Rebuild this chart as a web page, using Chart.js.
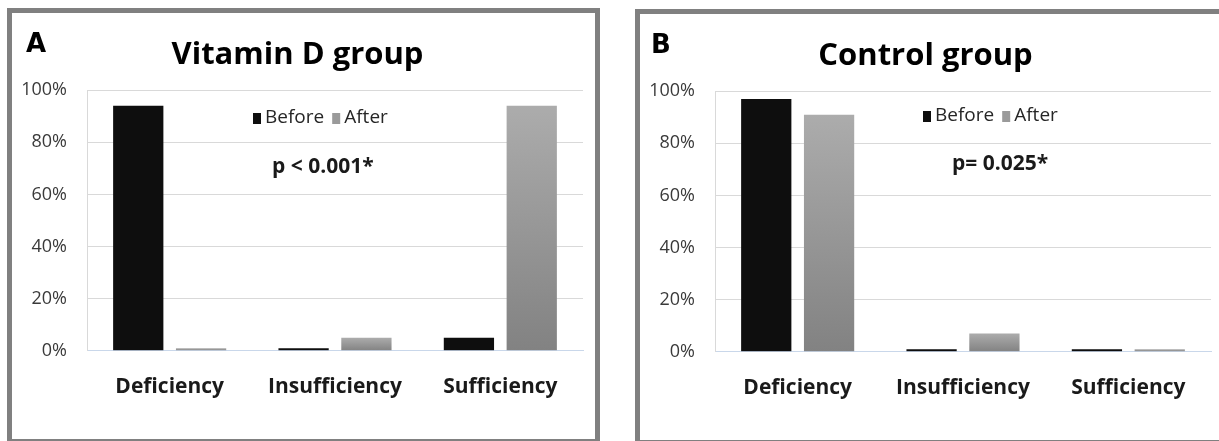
<!DOCTYPE html>
<html>
<head>
<meta charset="utf-8">
<script src="https://cdn.jsdelivr.net/npm/chart.js@4"></script>
<style>
  body { margin: 0; background: #fff; overflow: hidden; width: 1219px; height: 441px; position: relative; }
  .panel { position: absolute; border: 5px solid #808080; width: 583px; height: 426px; background: #fff; }
  #panelA { left: 7px; top: 8px; }
  #panelB { left: 635px; top: 9px; }
  canvas { display: block; }
</style>
</head>
<body>
<div class="panel" id="panelA"><canvas id="chartA" width="583" height="426"></canvas></div>
<div class="panel" id="panelB"><canvas id="chartB" width="583" height="426"></canvas></div>
<script>
const categories = ["Deficiency", "Insufficiency", "Sufficiency"];
const seriesNames = ["Before", "After"];
const vitaminDBefore = [94, 1, 5];
const vitaminDAfter = [1, 5, 94];
const controlBefore = [97, 1, 1];
const controlAfter = [91, 7, 1];
const yTickValues = [0, 20, 40, 60, 80, 100];

// gradient per bar, light on top, darker at the base
function afterFill(context) {
  const chart = context.chart;
  if (!chart.chartArea) return "#999999";
  const y = chart.scales.y;
  const top = y.getPixelForValue(context.raw);
  const bottom = y.getPixelForValue(0);
  if (bottom - top < 1) return "#9a9a9a";
  const g = chart.ctx.createLinearGradient(0, top, 0, bottom);
  g.addColorStop(0, "#acacac");
  g.addColorStop(1, "#828282");
  return g;
}

// panel letter, legend and p value drawn inside the plot
const notesPlugin = {
  id: "notes",
  afterDraw(chart, args, opts) {
    const c = chart.ctx;
    c.save();
    c.fillStyle = "#000";
    c.textBaseline = "alphabetic";
    c.font = "bold 26px 'DejaVu Sans'";
    c.fillText(opts.letter, opts.letterX, 39);

    let x = opts.legendX;
    const y = opts.legendY;
    c.font = "19px 'Open Sans'";
    c.textBaseline = "middle";
    chart.data.datasets.forEach((ds) => {
      c.fillStyle = ds.swatch;
      c.fillRect(x, y - 5, 8, 11);
      x += 12;
      c.fillStyle = "#262626";
      c.fillText(ds.label, x, y);
      x += c.measureText(ds.label).width + 8;
    });

    c.font = "bold 21px 'Open Sans'";
    c.fillStyle = "#1a1a1a";
    c.fillText(opts.pText, opts.pX, opts.pY);
    c.restore();
  },
};

function makeChart(id, title, before, after, notes) {
  return new Chart(document.getElementById(id), {
    type: "bar",
    data: {
      labels: categories,
      datasets: [
        {
          label: seriesNames[0],
          data: before,
          backgroundColor: "#0e0e0e",
          swatch: "#0e0e0e",
          categoryPercentage: 0.76,
          barPercentage: 0.8,
        },
        {
          label: seriesNames[1],
          data: after,
          backgroundColor: afterFill,
          swatch: "#9a9a9a",
          categoryPercentage: 0.76,
          barPercentage: 0.8,
        },
      ],
    },
    options: {
      responsive: false,
      animation: false,
      layout: { padding: { left: 0, right: 12, top: 0, bottom: 23 } },
      scales: {
        x: {
          grid: { display: false },
          border: { color: "#c9d7ea", width: 1 },
          ticks: {
            padding: 16,
            color: "#1a1a1a",
            font: { family: "'Open Sans'", size: 21, weight: "bold" },
          },
        },
        y: {
          min: 0,
          max: 100,
          afterFit: (scale) => { scale.width = 75; },
          afterBuildTicks: (scale) => { scale.ticks = yTickValues.map((v) => ({ value: v })); },
          grid: { color: "#d9d9d9", drawTicks: false },
          border: { color: "#d9d9d9" },
          ticks: {
            padding: 20,
            color: "#3a3a3a",
            font: { family: "'Open Sans'", size: 18 },
            callback: (v) => v + "%",
          },
        },
      },
      plugins: {
        legend: { display: false },
        tooltip: { enabled: false },
        title: {
          display: true,
          text: title,
          color: "#000",
          font: { family: "'Open Sans'", size: 31, weight: "bold", lineHeight: 1.2 },
          padding: { top: 24, bottom: 16 },
        },
        notes: notes,
      },
    },
    plugins: [notesPlugin],
  });
}

makeChart("chartA", "Vitamin D group", vitaminDBefore, vitaminDAfter, {
  letter: "A", letterX: 14, legendX: 241, legendY: 105, pText: "p < 0.001*", pX: 260, pY: 154,
});
makeChart("chartB", "Control group", controlBefore, controlAfter, {
  letter: "B", letterX: 11, legendX: 283, legendY: 102, pText: "p= 0.025*", pX: 312, pY: 150,
});
</script>
</body>
</html>
